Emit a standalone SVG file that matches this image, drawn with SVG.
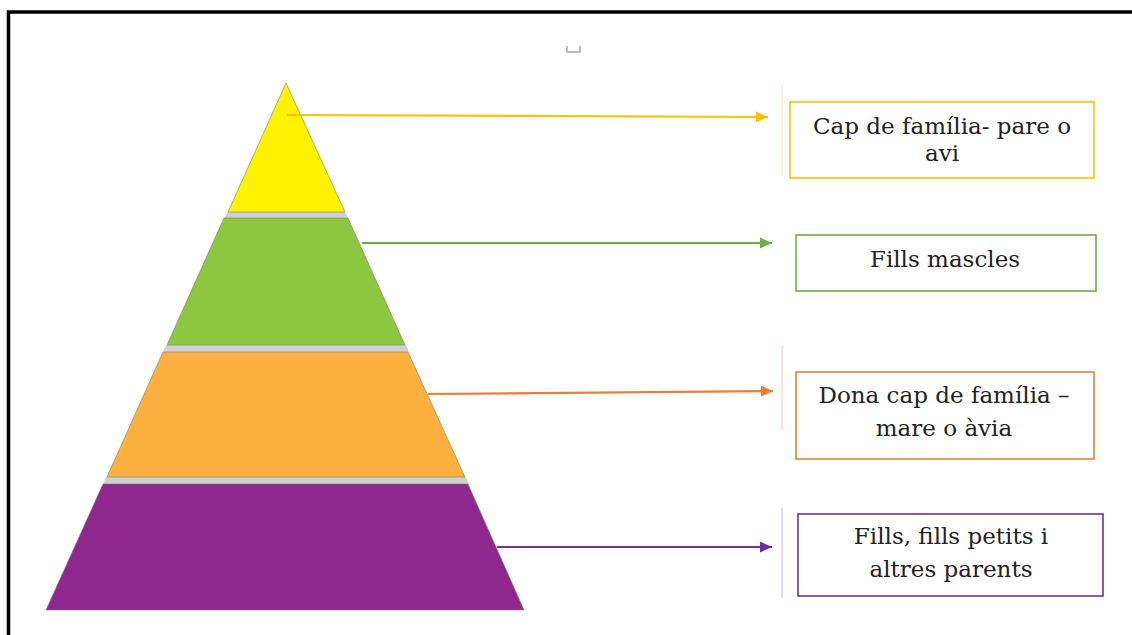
<svg xmlns="http://www.w3.org/2000/svg" width="1132" height="635" viewBox="0 0 1132 635">
<style>
.tier{stroke:#7f7f6f;stroke-opacity:0.6;stroke-width:1}
.gap{fill:#d0d0d0}
.box{fill:#ffffff;stroke-width:1.6}
.lbl{font-family:"DejaVu Serif","Liberation Serif",serif;font-size:23px;fill:#222222;text-anchor:middle}
.con{fill:none;stroke-width:2.2}
.vl{stroke-width:1;opacity:0.35}
</style>
<defs>
<marker id="ay" markerUnits="userSpaceOnUse" markerWidth="14" markerHeight="14" refX="12" refY="7" orient="auto"><path d="M0,1.5 L12,7 L0,12.5 Z" fill="#FFC000"/></marker>
<marker id="ag" markerUnits="userSpaceOnUse" markerWidth="14" markerHeight="14" refX="12" refY="7" orient="auto"><path d="M0,1.5 L12,7 L0,12.5 Z" fill="#70AD47"/></marker>
<marker id="ao" markerUnits="userSpaceOnUse" markerWidth="14" markerHeight="14" refX="12" refY="7" orient="auto"><path d="M0,1.5 L12,7 L0,12.5 Z" fill="#ED7D31"/></marker>
<marker id="ap" markerUnits="userSpaceOnUse" markerWidth="14" markerHeight="14" refX="12" refY="7" orient="auto"><path d="M0,1.5 L12,7 L0,12.5 Z" fill="#7030A0"/></marker>
</defs>
<rect width="1132" height="635" fill="#ffffff"/>
<rect x="8.5" y="12" width="1200" height="700" fill="none" stroke="#000000" stroke-width="3.5"/>
<path d="M567,46 V52 H580 V46" fill="none" stroke="#bdbdbd" stroke-width="2"/>
<g id="gaps">
<polygon class="gap" points="228,212 345,212 348,218 224,218"/>
<polygon class="gap" points="166,345 406,345 409,352 163,352"/>
<polygon class="gap" points="106,477 466,477 469,484 103,484"/>
</g>
<g id="tier1"><polygon class="tier" fill="#FFF200" points="286,83 345,212 228,212"/></g>
<g id="tier2"><polygon class="tier" fill="#8DC63F" points="224,218 348,218 405,345 167,345"/></g>
<g id="tier3"><polygon class="tier" fill="#FBB040" points="163,352 408,352 465,477 107,477"/></g>
<g id="tier4"><polygon class="tier" fill="#90278E" points="103,484 468,484 524,610 46,610"/></g>
<g id="connectors">
<line class="con" x1="287" y1="115" x2="768" y2="117" stroke="#FFC000" marker-end="url(#ay)"/>
<line class="con" x1="362" y1="243" x2="772" y2="243" stroke="#70AD47" marker-end="url(#ag)"/>
<line class="con" x1="428" y1="394" x2="773" y2="391" stroke="#ED7D31" marker-end="url(#ao)"/>
<line class="con" x1="497" y1="547" x2="772" y2="547" stroke="#7030A0" marker-end="url(#ap)"/>
<line class="vl" x1="782" y1="85" x2="782" y2="175" stroke="#FFC000"/>
<line class="vl" x1="782" y1="345" x2="782" y2="430" stroke="#ED7D31"/>
<line class="vl" x1="782" y1="508" x2="782" y2="598" stroke="#7030A0"/>
</g>
<g id="box1">
<rect class="box" x="790" y="102" width="304" height="76" stroke="#FFC000"/>
<text class="lbl" x="942" y="134">Cap de família- pare o</text>
<text class="lbl" x="942" y="161">avi</text>
</g>
<g id="box2">
<rect class="box" x="796" y="235" width="300" height="56" stroke="#70AD47"/>
<text class="lbl" x="945" y="267">Fills mascles</text>
</g>
<g id="box3">
<rect class="box" x="796" y="372" width="298" height="87" stroke="#ED7D31"/>
<text class="lbl" x="944" y="403">Dona cap de família –</text>
<text class="lbl" x="944" y="436">mare o àvia</text>
</g>
<g id="box4">
<rect class="box" x="798" y="514" width="305" height="82" stroke="#7030A0"/>
<text class="lbl" x="951" y="544">Fills, fills petits i</text>
<text class="lbl" x="951" y="577">altres parents</text>
</g>
</svg>
